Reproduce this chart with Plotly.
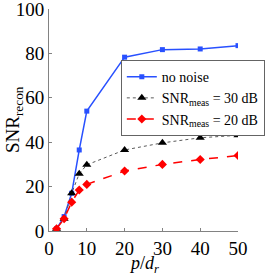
import plotly.graph_objects as go

x = [2, 4, 6, 8, 10, 20, 30, 40, 50]
no_noise = [1, 6.5, 17, 36.5, 54, 78.3, 81.7, 82, 83.5]
snr30 = [1, 5.5, 17, 25.8, 29.8, 36.5, 39.7, 42, 43.1]
snr20 = [1, 5.5, 13, 18.5, 21, 27, 30, 32.2, 34]
names = ["no noise", "SNR<sub>meas</sub> = 30 dB", "SNR<sub>meas</sub> = 20 dB"]
xticks = [0, 10, 20, 30, 40, 50]
yticks = [0, 20, 40, 60, 80, 100]
xtitle = "<i>p</i>/<i>d<sub>r</sub></i>"
ytitle = "SNR<sub>recon</sub>"

font = "Liberation Serif"

fig = go.Figure()
fig.add_trace(go.Scatter(x=x, y=no_noise, name=names[0], mode="lines+markers",
                         line=dict(color="rgb(40,80,255)", width=1.5),
                         marker=dict(symbol="square", size=5, color="rgb(40,80,255)")))
fig.add_trace(go.Scatter(x=x, y=snr30, name=names[1], mode="lines+markers",
                         line=dict(color="rgb(90,90,90)", width=1, dash="dot"),
                         marker=dict(symbol="triangle-up", size=8, color="black")))
fig.add_trace(go.Scatter(x=x, y=snr20, name=names[2], mode="lines+markers",
                         line=dict(color="red", width=1.5, dash="dash"),
                         marker=dict(symbol="diamond", size=7, color="red")))

axis_common = dict(showline=True, linecolor="rgb(130,130,130)", linewidth=1,
                   ticks="inside", ticklen=3, tickcolor="rgb(130,130,130)",
                   showgrid=False, zeroline=False, mirror=False,
                   ticklabeloverflow="allow", automargin=False,
                   tickfont=dict(family=font, size=19, color="black"))

fig.update_layout(
    width=274, height=273,
    margin=dict(l=49, r=12, t=9, b=42),
    paper_bgcolor="white", plot_bgcolor="white",
    font=dict(family=font, color="black"),
    xaxis=dict(range=[0, 50], tickvals=xticks, **axis_common),
    yaxis=dict(range=[0, 100], tickvals=yticks, **axis_common),
    legend=dict(x=0.38, y=0.77, xanchor="left", yanchor="top",
                bordercolor="rgb(100,100,100)", borderwidth=1, bgcolor="white",
                font=dict(family=font, size=14), tracegroupgap=0, itemwidth=30),
    showlegend=True,
    annotations=[
        dict(text=xtitle, xref="paper", yref="paper", x=0.5, y=-0.15,
             xanchor="center", yanchor="middle", showarrow=False,
             font=dict(family=font, size=18)),
        dict(text=ytitle, xref="paper", yref="paper", x=-0.185, y=0.5,
             xanchor="center", yanchor="middle", showarrow=False, textangle=-90,
             font=dict(family=font, size=19)),
    ],
)

fig.write_html("out.html", config={"displayModeBar": False},
               post_script="document.body.style.margin='0';document.body.style.overflow='hidden';")
